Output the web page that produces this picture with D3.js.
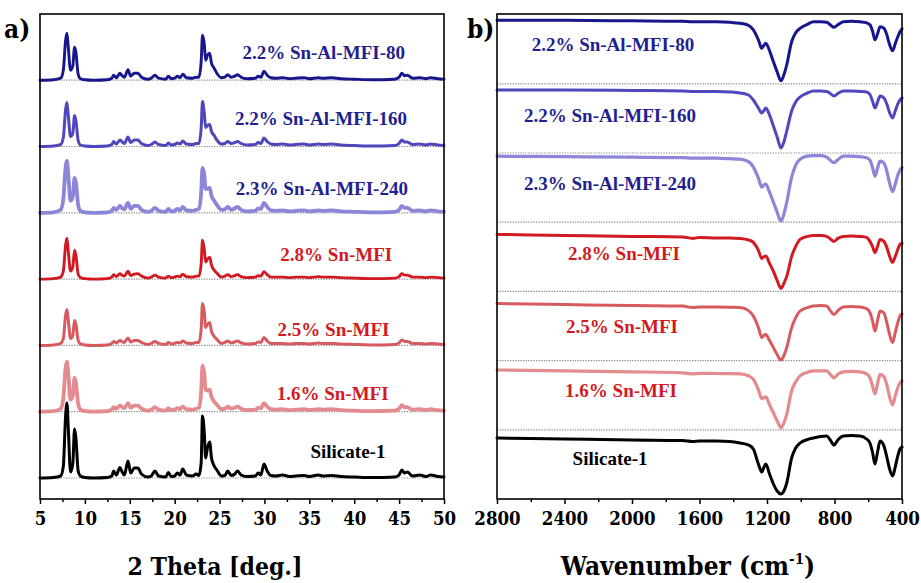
<!DOCTYPE html>
<html lang="en">
  <head>
    <meta charset="UTF-8" />
    <title>XRD and FTIR</title>
    <script src="https://d3js.org/d3.v7.min.js"></script>
    <style>
      body { margin: 0; background: #fff; }
      svg path.trace { fill: none; stroke-linejoin: round; stroke-linecap: round; }
      .tick text { font-family: "DejaVu Serif Condensed", "Liberation Serif", serif; font-weight: bold; font-size: 18.5px; }
      .lbl { font-family: "Liberation Serif", "Times New Roman", serif; font-weight: bold; font-size: 19px; }
      .title { font-family: "DejaVu Serif Condensed", "Liberation Serif", serif; font-weight: bold; font-size: 26px; }
    </style>
  </head>
  <body></body>
  <script type="text/javascript">
    var width = 921,
      height = 583;

    // sample names, bottom to top
    var samples = ['Silicate-1', '1.6% Sn-MFI', '2.5% Sn-MFI', '2.8% Sn-MFI',
      '2.3% Sn-Al-MFI-240', '2.2% Sn-Al-MFI-160', '2.2% Sn-Al-MFI-80'];
    var colors = ['#000000', '#e38b8e', '#d65a5e', '#d11a22', '#8b86d8', '#4f47bb', '#17168c'];
    var labelColors = ['#000000', '#d11a22', '#d11a22', '#d11a22', '#1f1f8f', '#1f1f8f', '#1f1f8f'];

    // ---- XRD (panel a) ----
    var xrdTicks = [5, 10, 15, 20, 25, 30, 35, 40, 45, 50];
    var xrdTheta = [5, 6.5, 7.3, 7.6, 7.85, 8.0, 8.15, 8.4, 8.65, 8.85, 9.0, 9.25, 9.5, 10, 11, 12.5,
      13.0, 13.2, 13.5, 13.9, 14.1, 14.4, 14.8, 15.1, 15.5, 15.9, 16.3, 17.0, 17.4, 17.8, 18.2,
      19.0, 19.3, 19.6, 20.0, 20.3, 20.6, 20.9, 21.3, 22.0, 22.4, 22.7, 22.95, 23.1, 23.3, 23.45,
      23.65, 23.9, 24.1, 24.4, 24.7, 25.2, 25.6, 25.9, 26.3, 26.7, 27.0, 27.4, 28.0, 29.0, 29.3,
      29.6, 29.95, 30.3, 30.7, 31.3, 32.0, 32.8, 33.5, 34.4, 35.0, 36.0, 36.5, 37.5, 38.5, 40.0,
      42.0, 44.5, 45.0, 45.3, 45.6, 45.9, 46.5, 47.3, 48.0, 48.5, 49.3, 50];
    var xrdSilicate = [0, 0.5, 2, 12, 62, 75, 50, 6, 14, 49, 40, 7, 2, 0.5, 0, 0.5,
      2, 7, 3, 10.5, 7, 3, 17, 5, 10, 10, 4, 1, 2, 7, 2,
      1, 5.5, 1.5, 2, 5, 3, 9, 3, 2, 4, 2.5, 15, 62, 45, 20,
      30, 36, 20, 12, 8, 2, 2.5, 7, 2.5, 4, 7, 3, 1.5, 2, 5,
      3, 14, 7, 2.5, 2, 3, 1.5, 2, 2.5, 1.5, 3, 2, 2.5, 1.5, 1,
      0.5, 1, 3, 8, 5, 6, 2, 3, 1.5, 3, 1.5, 1];
    var xrdSn16 = [0, 0.5, 3, 14, 44, 50, 38, 12, 16, 34, 29, 8, 2, 0.5, 0, 0.5,
      2, 4.5, 3, 6, 5, 3.5, 8.5, 4, 6, 6, 3, 1, 2, 4.5, 2,
      1, 3.5, 1.5, 2, 3.5, 2.5, 5, 2.5, 2, 3, 4, 20, 46, 38, 22,
      21, 22, 15, 10, 7, 2.5, 3, 5, 3, 4, 5, 3, 1.5, 2, 4,
      3.5, 8.5, 5, 2.5, 2, 2.5, 1.5, 2, 2.5, 1.5, 2.5, 2, 2.5, 1.5, 1,
      0.5, 1, 3, 6.5, 4.5, 4.5, 2, 2.5, 1.5, 2.5, 1.5, 1];
    var xrdSn25 = [0, 0.5, 2, 7, 30, 36, 25, 7, 10, 25, 21, 5, 1.5, 0.5, 0, 0.5,
      2, 4, 2.5, 5, 4, 3, 7.5, 3.5, 5, 5, 3, 1, 2, 4, 2,
      1, 3, 1.5, 2, 3, 2.5, 4.5, 2.5, 2, 3, 3, 16, 42, 33, 18,
      21, 23, 14, 9, 6, 2, 3, 4.5, 2.5, 3.5, 4.5, 2.5, 1.5, 2, 3.5,
      3, 8, 4.5, 2, 2, 2, 1.5, 2, 2, 1.5, 2.5, 2, 2, 1.5, 1,
      0.5, 1, 2.5, 5.5, 4, 4, 2, 2, 1.5, 2, 1.5, 1];
    var xrdSn28 = [0, 0.5, 2, 8, 34, 41, 28, 8, 12, 29, 24, 5, 1.5, 0.5, 0, 0.5,
      2, 4.5, 2.5, 5.5, 4, 3, 8, 3.5, 5, 5.5, 3, 1, 2, 4, 2,
      1, 3, 1.5, 2, 3, 2.5, 5, 2.5, 2, 3, 3, 15, 39, 30, 17,
      20, 22, 14, 9, 6, 2, 3, 4.5, 2.5, 3.5, 4.5, 2.5, 1.5, 2, 3.5,
      3, 7.5, 4.5, 2, 2, 2, 1.5, 2, 2, 1.5, 2.5, 2, 2, 1.5, 1,
      0.5, 1, 2.5, 5.5, 4, 4, 2, 2, 1.5, 2, 1.5, 1];
    var xrdSnAl240 = [0, 0.5, 3, 14, 45, 52, 38, 12, 16, 35, 30, 8, 2, 0.5, 0, 0.5,
      2, 5, 3, 7, 5, 3.5, 10, 4, 7, 7, 3, 1, 2, 5, 2,
      1, 4, 1.5, 2, 4, 2.5, 6, 2.5, 2, 3, 4, 20, 45, 38, 24,
      24, 25, 17, 12, 8, 3, 3.5, 6, 3, 4.5, 6, 3, 1.5, 2, 4.5,
      4, 10, 6, 2.5, 2, 2.5, 1.5, 2, 2.5, 1.5, 2.5, 2, 2.5, 1.5, 1,
      0.5, 1, 3, 7, 5, 5, 2, 2.5, 1.5, 2.5, 1.5, 1];
    var xrdSnAl160 = [0, 0.5, 2, 9, 37, 44, 31, 10, 13, 31, 26, 6, 1.5, 0.5, 0, 0.5,
      2, 5, 2.5, 6.5, 5, 3, 9.5, 4, 6.5, 6.5, 3, 1, 2, 4.5, 2,
      1, 3.5, 1.5, 2, 3.5, 2.5, 5.5, 2.5, 2, 3, 3, 18, 45, 33, 19,
      21, 22, 15, 11, 6.5, 2.5, 3, 5, 3, 4, 5, 3, 1.5, 2, 4,
      3, 8.5, 5, 2.5, 2, 2.5, 1.5, 2, 2.5, 1.5, 2.5, 2, 2.5, 1.5, 1,
      0.5, 1, 3, 6.5, 4.5, 4.5, 2, 2.5, 1.5, 2.5, 1.5, 1];
    var xrdSnAl80 = [0, 0.5, 2, 10, 40, 47, 33, 10, 14, 33, 28, 6, 1.5, 0.5, 0, 0.5,
      2, 5, 2.5, 7, 5, 3, 10.5, 4, 7, 7, 3, 1, 2, 5, 2,
      1, 4, 1.5, 2, 4, 2.5, 6, 2.5, 2, 3, 3, 18, 45, 36, 20,
      25, 27, 17, 12, 7, 2.5, 3, 5.5, 3, 4, 5.5, 3, 1.5, 2, 4,
      3, 9, 5, 2.5, 2, 2.5, 1.5, 2, 2.5, 1.5, 2.5, 2, 2.5, 1.5, 1,
      0.5, 1, 3, 7, 4.5, 5, 2, 2.5, 1.5, 2.5, 1.5, 1];
    var xrdSeries = [xrdSilicate, xrdSn16, xrdSn25, xrdSn28, xrdSnAl240, xrdSnAl160, xrdSnAl80];
    var xrdStep = 66.3;
    // label anchor: [2theta, height above baseline]
    var xrdLabelAt = [[39.3, 27], [37.6, 18], [37.7, 16], [38.0, 25], [36.4, 24], [36.3, 28], [36.6, 28]];

    // ---- FTIR (panel b) ----
    var ftirTicks = [2800, 2400, 2000, 1600, 1200, 800, 400];
    var ftirWn = [2800, 2400, 2000, 1700, 1640, 1600, 1500, 1420, 1360, 1310, 1281, 1251, 1231, 1220,
      1207, 1185, 1162, 1140, 1117, 1100, 1083, 1054, 1030, 1004, 960, 925, 880, 846, 825, 803,
      780, 748, 700, 649, 610, 590, 575, 560, 545, 530, 507, 490, 475, 456, 440, 425, 412, 400];
    var ftirSilicate = [61, 60, 59, 58.5, 57.5, 58, 58, 57.5, 56, 54, 50, 35, 27, 31,
      35, 25, 15, 8, 5, 8, 16, 41, 51, 56, 59.5, 61, 62.5, 63, 59, 54,
      59, 63, 63.5, 63, 60, 56, 47, 35, 47, 58, 53, 42, 31, 23, 32, 43, 50, 52];
    var ftirSn16 = [59.8, 59, 58, 57, 56, 56.5, 56.3, 56.2, 56, 54, 50.5, 40, 31, 32,
      33, 25, 17, 9, 2, 7, 15.5, 39, 48, 54, 57.5, 59, 59, 59, 55.5, 52,
      55.5, 58, 58.5, 58, 56, 52, 44, 36, 46, 55.5, 53, 45, 34, 25, 34, 42, 47, 49];
    var ftirSn25 = [57, 56, 55, 54.5, 53, 53.6, 53.5, 53.3, 53, 50, 44.6, 33, 23, 25,
      26, 20, 13, 6, 0.5, 5, 13, 33, 43, 49.6, 53, 54.6, 55, 54.6, 50, 46,
      50, 53.6, 54, 53.6, 52, 48, 40, 29.6, 40, 49.6, 47.6, 38, 27, 18, 28, 38, 44.6, 46.6];
    var ftirSn28 = [57, 56, 55, 54.5, 53, 54, 53.5, 53.5, 53, 51.5, 49, 41, 33, 34.5,
      35.5, 28, 20, 11, 3, 8, 15, 35, 45, 52, 55, 56, 56, 55, 52.5, 50,
      53, 55, 55.5, 55, 54, 50, 45, 39, 45, 52, 50, 44, 36, 29, 35, 42, 47, 48];
    var ftirSnAl240 = [66, 65.5, 65, 64.5, 64, 64, 64, 63.5, 63, 60.5, 55, 44, 35, 37,
      38, 30, 20, 10, 1, 8, 20, 45, 57, 63, 66, 66.5, 66.5, 65, 62, 59.5,
      62.5, 66, 66, 65.5, 64.5, 62, 55, 46, 54, 61, 59, 51, 40, 30.5, 38, 47, 52, 54.5];
    var ftirSnAl160 = [63, 63, 62.5, 62, 61.5, 61.5, 61.5, 61, 60, 58, 53, 45, 40, 42,
      45, 38, 27, 16, 5, 11, 22, 42, 51, 56, 60, 62, 62, 61.5, 59.5, 57,
      59.5, 62, 62, 61.5, 61, 58.5, 52, 45, 51, 57, 55, 49, 41, 35, 42, 49, 53, 55];
    var ftirSnAl80 = [63.5, 63.5, 63, 62.5, 62, 62, 62, 61.5, 60.5, 58.5, 54, 44, 35.5, 38,
      40.5, 33, 22, 12, 3, 9, 19, 42, 51, 55.5, 59.5, 62, 62, 61.5, 59, 56.5,
      59, 62, 62.5, 62, 61, 59, 53, 44, 50, 57, 55.5, 49, 40, 33, 40, 47, 52, 55];
    var ftirSeries = [ftirSilicate, ftirSn16, ftirSn25, ftirSn28, ftirSnAl240, ftirSnAl160, ftirSnAl80];
    var ftirStep = 69.2;
    // label anchor: [wavenumber, height above band bottom]
    var ftirLabelAt = [[2130, 41], [2065, 39], [2059, 34], [2047, 38], [2130, 39], [2130, 38], [2113, 39]];

    var svg = d3.select('body').append('svg')
      .attr('width', width)
      .attr('height', height);

    function panel(opt) {
      var x = opt.x, y = opt.y;
      var g = svg.append('g');
      var x0 = d3.min(x.range()), x1 = d3.max(x.range());
      var yTop = y.range()[1], yBot = y.range()[0];

      // dotted baselines
      g.selectAll('line.base')
        .data(opt.baseLines)
        .join('line')
        .attr('x1', x0).attr('x2', x1)
        .attr('y1', d => y(d)).attr('y2', d => y(d))
        .attr('stroke', '#8a8a8a')
        .attr('stroke-width', 1.2)
        .attr('stroke-dasharray', '1.3,1.3');

      // traces
      var line = d3.line()
        .x(d => x(d[0]))
        .y(d => y(d[1]))
        .curve(d3.curveMonotoneX);
      opt.series.forEach(function (vals, i) {
        var pts = opt.xs.map((v, j) => [v, vals[j] + i * opt.step]);
        g.append('path')
          .attr('class', 'trace')
          .attr('d', line(pts))
          .attr('stroke', colors[i])
          .attr('stroke-width', opt.widths[i]);
      });

      // sample labels
      g.selectAll('text.lbl')
        .data(samples)
        .join('text')
        .attr('class', 'lbl')
        .attr('x', (d, i) => x(opt.labelAt[i][0]))
        .attr('y', (d, i) => y(opt.labelAt[i][1] + i * opt.step))
        .attr('text-anchor', 'middle')
        .attr('dominant-baseline', 'central')
        .attr('fill', (d, i) => labelColors[i])
        .text(d => d);

      // frame
      g.append('rect')
        .attr('x', x0).attr('y', yTop)
        .attr('width', x1 - x0).attr('height', yBot - yTop)
        .attr('fill', 'none')
        .attr('stroke', '#000')
        .attr('stroke-width', 1.6);

      // minor ticks
      g.append('g')
        .attr('transform', 'translate(0,' + yBot + ')')
        .call(d3.axisBottom(x).tickValues(opt.minor).tickSize(3).tickFormat(''))
        .call(a => a.select('.domain').remove())
        .selectAll('line').attr('stroke-width', 1.5);

      // major ticks
      var ax = g.append('g')
        .attr('transform', 'translate(0,' + yBot + ')')
        .call(d3.axisBottom(x).tickValues(opt.ticks).tickSize(5).tickPadding(8).tickFormat(d3.format('d')));
      ax.select('.domain').remove();
      ax.selectAll('line').attr('stroke-width', 1.5);
      ax.selectAll('text').attr('fill', '#000');

      // panel tag
      svg.append('text')
        .attr('class', 'title')
        .attr('x', opt.tagX).attr('y', 38)
        .text(opt.tag);
      return g;
    }

    var xA = d3.scaleLinear().domain([5, 50]).range([40, 444]);
    var yA = d3.scaleLinear().domain([-21, 464]).range([499, 14]);
    panel({
      x: xA, y: yA, xs: xrdTheta, series: xrdSeries, step: xrdStep,
      baseLines: d3.range(7).map(k => k * xrdStep),
      widths: [3, 3.8, 3, 2.9, 3.8, 3, 2.9],
      labelAt: xrdLabelAt,
      ticks: xrdTicks,
      minor: d3.range(7.5, 50, 5),
      tag: 'a)', tagX: 4
    });

    var xB = d3.scaleLinear().domain([2800, 400]).range([497, 902]);
    var yB = d3.scaleLinear().domain([0, 485]).range([499, 14]);
    panel({
      x: xB, y: yB, xs: ftirWn, series: ftirSeries, step: ftirStep,
      baseLines: d3.range(1, 7).map(k => k * ftirStep),
      widths: [3, 3.2, 3, 3, 3.2, 3, 3],
      labelAt: ftirLabelAt,
      ticks: ftirTicks,
      minor: d3.range(2600, 400, -400),
      tag: 'b)', tagX: 467
    });

    // axis titles
    svg.append('text')
      .attr('class', 'title')
      .attr('x', 215).attr('y', 575)
      .attr('font-size', 24.5)
      .style('font-size', '24.5px')
      .attr('text-anchor', 'middle')
      .text('2 Theta [deg.]');

    var wt = svg.append('text')
      .attr('class', 'title')
      .attr('x', 688).attr('y', 575)
      .attr('text-anchor', 'middle');
    wt.append('tspan').text('Wavenumber (cm');
    wt.append('tspan').attr('dy', -11).style('font-size', '15px').text('-1');
    wt.append('tspan').attr('dy', 11).text(')');
  </script>
</html>
